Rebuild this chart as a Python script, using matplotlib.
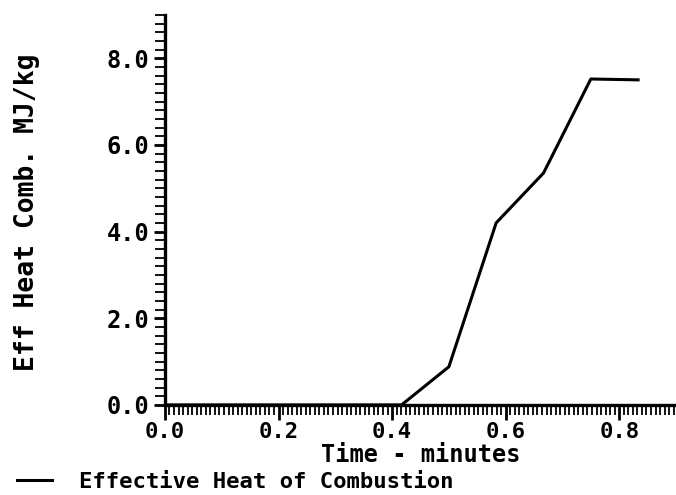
import matplotlib.pyplot as plt
import numpy as np
from matplotlib.ticker import MultipleLocator, FormatStrFormatter

# data (5 s steps, time in minutes)
time_min = [0.0, 0.0833, 0.1667, 0.25, 0.3333, 0.4167, 0.5, 0.5833, 0.6667, 0.75, 0.8333]
heat_mj_kg = [0.0, 0.0, 0.0, 0.0, 0.0, 0.0, 0.88, 4.20, 5.35, 7.52, 7.50]
series_label = 'Effective Heat of Combustion'

plt.rcParams['font.family'] = 'DejaVu Sans Mono'
plt.rcParams['font.weight'] = 'bold'

fig = plt.figure(figsize=(6.76, 4.95), dpi=100)
ax = fig.add_axes([0.244, 0.182, 0.756, 0.788])

line, = ax.plot(time_min, heat_mj_kg, color='black', linewidth=2.2, zorder=3)

ax.set_xlim(0, 0.9)
ax.set_ylim(0, 9.0)

# Despine
ax.spines['right'].set_visible(False)
ax.spines['top'].set_visible(False)
ax.spines['left'].set_linewidth(2.4)
ax.spines['bottom'].set_linewidth(2.4)

ax.xaxis.set_major_locator(MultipleLocator(0.2))
ax.xaxis.set_minor_locator(MultipleLocator(0.008))
ax.yaxis.set_major_locator(MultipleLocator(2.0))
ax.yaxis.set_minor_locator(MultipleLocator(0.2))
ax.xaxis.set_major_formatter(FormatStrFormatter('%.1f'))
ax.yaxis.set_major_formatter(FormatStrFormatter('%.1f'))

ax.tick_params(axis='both', which='major', direction='out', length=11, width=2,
               labelsize=16, pad=1)
ax.tick_params(axis='both', which='minor', direction='out', length=7, width=1.3)
ax.tick_params(axis='y', which='major', length=8, pad=3, labelsize=17)

ax.set_xlabel('Time - minutes', fontsize=17, fontweight='bold')
ax.xaxis.set_label_coords(0.5, -0.098)
ax.set_ylabel('Eff Heat Comb. MJ/kg', fontsize=19, fontweight='bold')
ax.yaxis.set_label_coords(-0.245, 0.495)

fig.legend([line], [series_label], loc='center left', bbox_to_anchor=(0.025, 0.026),
           frameon=False, fontsize=16, handlelength=1.6, handletextpad=1.2,
           borderpad=0, borderaxespad=0)

plt.savefig('out.png', dpi=100)
